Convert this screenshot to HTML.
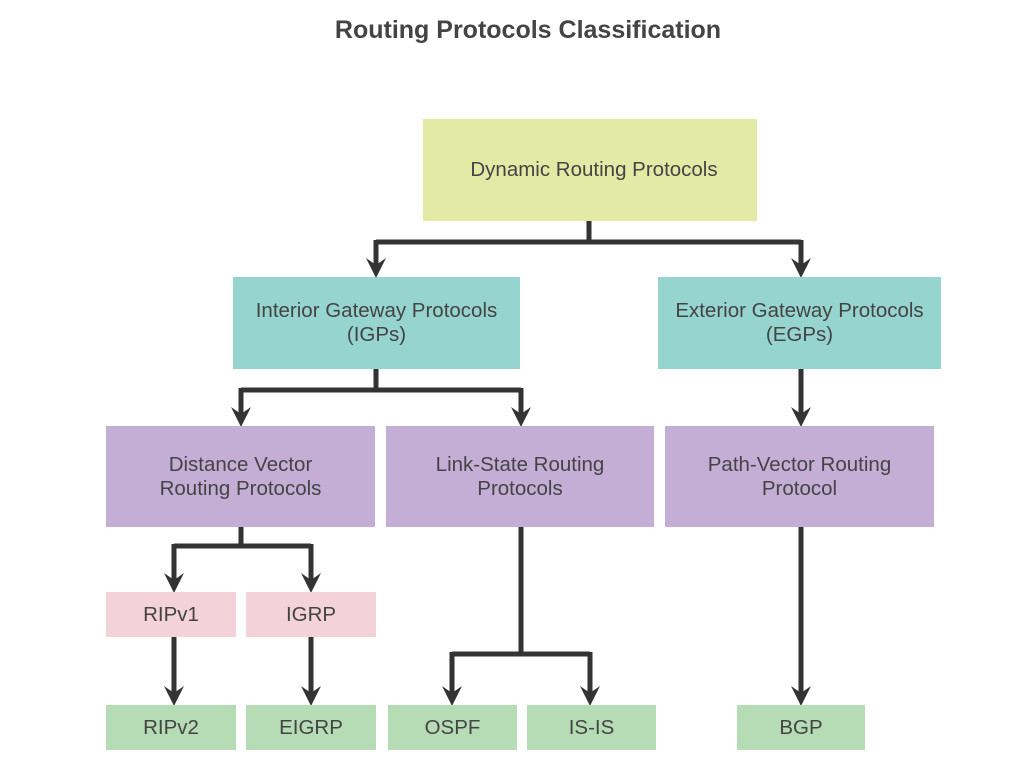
<!DOCTYPE html>
<html><head><meta charset="utf-8"><style>
body{margin:0;width:1024px;height:768px;background:#fff;position:relative;font-family:"Liberation Sans",sans-serif;overflow:hidden}
.b{position:absolute;display:flex;align-items:center;justify-content:center;text-align:center;color:#444;font-size:20.5px;line-height:24px}
.y{background:#e3eaa6}.t{background:#96d4cf}.p{background:#c4aed5}.k{background:#f4d2da}.g{background:#b6dcb6}
h1{position:absolute;top:16px;left:0;width:1056px;margin:0;text-align:center;font-size:25px;color:#444;font-weight:bold}
svg{position:absolute;left:0;top:0}
</style></head><body>
<h1>Routing Protocols Classification</h1>
<svg width="1024" height="768">
<g stroke="#333" stroke-width="5" fill="none">
<path d="M589 221V242M376 242H801M376 240V268M801 240V268"/>
<path d="M376 369V390M241 390H521M241 388V417M521 388V417M801 369V417"/>
<path d="M241 527V546M174 546H311M174 544V583M311 544V583"/>
<path d="M174 637V696M311 637V696"/>
<path d="M521 527V654M452 654H590M452 652V696M590 652V696M801 527V696"/>
</g>
<g fill="#333">
<path d="M366 258L376 278L386 258L376 265Z"/>
<path d="M791 258L801 278L811 258L801 265Z"/>
<path d="M231 407L241 427L251 407L241 414Z"/>
<path d="M511 407L521 427L531 407L521 414Z"/>
<path d="M791 407L801 427L811 407L801 414Z"/>
<path d="M164 573L174 593L184 573L174 580Z"/>
<path d="M301 573L311 593L321 573L311 580Z"/>
<path d="M164 686L174 706L184 686L174 693Z"/>
<path d="M301 686L311 706L321 686L311 693Z"/>
<path d="M442 686L452 706L462 686L452 693Z"/>
<path d="M580 686L590 706L600 686L590 693Z"/>
<path d="M791 686L801 706L811 686L801 693Z"/>
</g>
</svg>
<div class="b y" style="left:423px;top:119px;width:334px;height:102px;padding-left:8px;box-sizing:border-box">Dynamic Routing Protocols</div>
<div class="b t" style="left:233px;top:277px;width:287px;height:92px">Interior Gateway Protocols<br>(IGPs)</div>
<div class="b t" style="left:658px;top:277px;width:283px;height:92px">Exterior Gateway Protocols<br>(EGPs)</div>
<div class="b p" style="left:106px;top:426px;width:269px;height:101px">Distance Vector<br>Routing Protocols</div>
<div class="b p" style="left:386px;top:426px;width:268px;height:101px">Link-State Routing<br>Protocols</div>
<div class="b p" style="left:665px;top:426px;width:269px;height:101px">Path-Vector Routing<br>Protocol</div>
<div class="b k" style="left:106px;top:592px;width:130px;height:45px">RIPv1</div>
<div class="b k" style="left:246px;top:592px;width:130px;height:45px">IGRP</div>
<div class="b g" style="left:106px;top:705px;width:130px;height:45px">RIPv2</div>
<div class="b g" style="left:246px;top:705px;width:130px;height:45px">EIGRP</div>
<div class="b g" style="left:388px;top:705px;width:129px;height:45px">OSPF</div>
<div class="b g" style="left:527px;top:705px;width:129px;height:45px">IS-IS</div>
<div class="b g" style="left:737px;top:705px;width:128px;height:45px">BGP</div>
</body></html>
